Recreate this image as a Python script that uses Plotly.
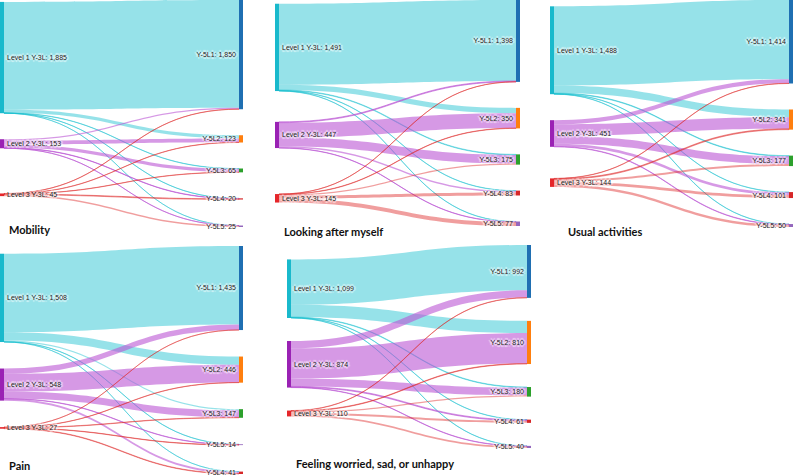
import plotly.graph_objects as go

# ---------------- data ----------------
source_levels = ["Level 1 Y-3L", "Level 2 Y-3L", "Level 3 Y-3L"]
target_levels = ["Y-5L1", "Y-5L2", "Y-5L3", "Y-5L4", "Y-5L5"]

# flows: rows = 3L level (source), cols = 5L level (target)
mobility = [[1823, 55, 4, 2, 1],
            [24, 64, 57, 6, 2],
            [3, 4, 4, 12, 22]]
looking_after = [[1382, 90, 10, 5, 4],
                 [14, 254, 147, 28, 4],
                 [2, 6, 18, 50, 69]]
usual_activities = [[1340, 130, 10, 4, 4],
                    [70, 196, 131, 47, 7],
                    [4, 15, 36, 50, 39]]
pain = [[1342, 141, 20, 2, 3],
        [91, 301, 121, 30, 5],
        [2, 4, 6, 9, 6]]
feeling = [[850, 230, 10, 5, 4],
           [137, 570, 145, 16, 6],
           [5, 10, 25, 40, 30]]

titles = ["Mobility", "Looking after myself", "Usual activities",
          "Pain", "Feeling worried, sad, or unhappy"]
flows = [mobility, looking_after, usual_activities, pain, feeling]

# ---------------- styling / layout ----------------
W, H = 793, 475
src_node_colors = ["#19b9cc", "#9a22b4", "#e5262a"]
tgt_node_colors = ["#1f6fb2", "#ff7f0e", "#2ca02c", "#d62728", "#9467bd"]
src_link_colors = ["rgba(23,190,207,0.45)", "rgba(186,85,211,0.6)",
                   "rgba(222,40,40,0.45)"]

# panel boxes in pixels: (left, top, right, bottom, pad)
panels = [
    (0, 0, 243, 227, 26),
    (275, 0, 520, 226, 26),
    (550, 0, 793, 227, 26),
    (0, 246, 243, 474, 26.5),
    (287, 245, 531, 448, 23),
]
title_pos = [(7, 230), (282, 231), (566, 231), (7, 465), (294, 463)]

halo = ("2px 0px 1px rgba(255,255,255,0.85), -2px 0px 1px rgba(255,255,255,0.85), "
        "0px 2px 1px rgba(255,255,255,0.85), 0px -2px 1px rgba(255,255,255,0.85)")

fig = go.Figure()
for flow, (l, t, r, b, pad) in zip(flows, panels):
    src_tot = [sum(row) for row in flow]
    tgt_tot = [sum(flow[i][j] for i in range(3)) for j in range(5)]
    labels = [f"{s}: {v:,}" for s, v in zip(source_levels, src_tot)] + \
             [f"{s}: {v:,}" for s, v in zip(target_levels, tgt_tot)]
    src, tgt, val, col = [], [], [], []
    for i in range(3):
        for j in range(5):
            src.append(i)
            tgt.append(3 + j)
            val.append(flow[i][j])
            col.append(src_link_colors[i])
    fig.add_trace(go.Sankey(
        domain=dict(x=[l / W, r / W], y=[1 - b / H, 1 - t / H]),
        node=dict(label=labels, pad=pad, thickness=4,
                  color=src_node_colors + tgt_node_colors,
                  line=dict(width=0)),
        link=dict(source=src, target=tgt, value=val, color=col),
        textfont=dict(family="Liberation Sans, Arial", size=7, color="#222",
                      shadow=halo),
        hoverinfo="none",
    ))

for text, (x, y) in zip(titles, title_pos):
    fig.add_annotation(text=text, x=x / W, y=1 - y / H, xref="paper", yref="paper",
                       xanchor="left", yanchor="middle", showarrow=False,
                       font=dict(family="Lato", size=11, color="#111", weight="bold"))

fig.update_layout(width=W, height=H, margin=dict(l=0, r=0, t=0, b=0),
                  paper_bgcolor="white", plot_bgcolor="white")
fig.write_html("out.html", config={"displayModeBar": False},
               post_script="document.body.style.margin='0px';document.body.style.padding='0px';")
